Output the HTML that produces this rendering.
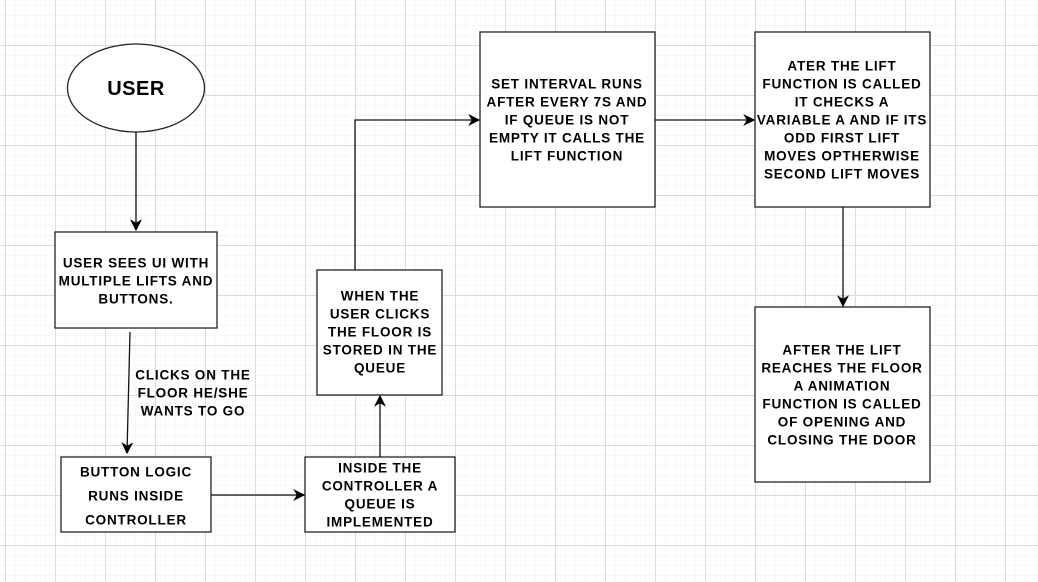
<!DOCTYPE html>
<html><head><meta charset="utf-8"><style>
html,body{margin:0;padding:0;background:#fff;}
svg{display:block;}
text{font-family:"Liberation Sans",Arial,sans-serif;font-weight:bold;font-size:13.5px;letter-spacing:0.8px;fill:#000;text-anchor:middle;dominant-baseline:central;}
</style></head><body>
<svg width="1038" height="582" viewBox="0 0 1038 582" xmlns="http://www.w3.org/2000/svg">
<defs>
<pattern id="minor" x="5" y="5" width="10" height="10" patternUnits="userSpaceOnUse">
<path d="M0 0H10M0 0V10" stroke="#f0f0f0" stroke-width="1" fill="none"/>
</pattern>
<pattern id="major" x="5" y="45" width="50" height="50" patternUnits="userSpaceOnUse">
<path d="M0 0.5H50M0.5 0V50" stroke="#dcdcdc" stroke-width="1" fill="none"/>
</pattern>
<marker id="ar" viewBox="0 0 10 10" refX="9" refY="5" markerWidth="12" markerHeight="12" markerUnits="userSpaceOnUse" orient="auto">
<path d="M0 0L10 5L0 10L3 5Z" fill="#000"/>
</marker>
</defs>
<rect width="1038" height="582" fill="url(#minor)"/>
<rect width="1038" height="582" fill="url(#major)"/>
<g stroke="#222" stroke-width="1.3" fill="#fff">
<ellipse cx="136" cy="88" rx="68.5" ry="44"/>
<rect x="55" y="232" width="162" height="96"/>
<rect x="61" y="457" width="150" height="75"/>
<rect x="305" y="457" width="150" height="75"/>
<rect x="317" y="270" width="125" height="125"/>
<rect x="480" y="32" width="175" height="175"/>
<rect x="755" y="32" width="175" height="175"/>
<rect x="755" y="307" width="175" height="175"/>
</g>
<g stroke="#111" stroke-width="1.3" fill="none">
<path d="M136 132V230" marker-end="url(#ar)"/>
<path d="M130 332L127 453" marker-end="url(#ar)"/>
<path d="M211 495H304" marker-end="url(#ar)"/>
<path d="M380 457V396" marker-end="url(#ar)"/>
<path d="M355 270V120H479" marker-end="url(#ar)"/>
<path d="M655 120H754" marker-end="url(#ar)"/>
<path d="M843 207V306" marker-end="url(#ar)"/>
</g>
<text x="136" y="89" style="font-size:20px;letter-spacing:0.5px">USER</text>
<text x="136" y="263">USER SEES UI WITH</text>
<text x="136" y="281">MULTIPLE LIFTS AND</text>
<text x="136" y="299">BUTTONS.</text>
<text x="193" y="375">CLICKS ON THE</text>
<text x="193" y="393">FLOOR HE/SHE</text>
<text x="193" y="411">WANTS TO GO</text>
<text x="136" y="472">BUTTON LOGIC</text>
<text x="136" y="496">RUNS INSIDE</text>
<text x="136" y="520">CONTROLLER</text>
<text x="380" y="468">INSIDE THE</text>
<text x="380" y="486">CONTROLLER A</text>
<text x="380" y="504">QUEUE IS</text>
<text x="380" y="522">IMPLEMENTED</text>
<text x="380" y="296">WHEN THE</text>
<text x="380" y="314">USER CLICKS</text>
<text x="380" y="332">THE FLOOR IS</text>
<text x="380" y="350">STORED IN THE</text>
<text x="380" y="368">QUEUE</text>
<text x="567" y="84">SET INTERVAL RUNS</text>
<text x="567" y="102">AFTER EVERY 7S AND</text>
<text x="567" y="120">IF QUEUE IS NOT</text>
<text x="567" y="138">EMPTY IT CALLS THE</text>
<text x="567" y="156">LIFT FUNCTION</text>
<text x="842" y="66">ATER THE LIFT</text>
<text x="842" y="84">FUNCTION IS CALLED</text>
<text x="842" y="102">IT CHECKS A</text>
<text x="842" y="120">VARIABLE A AND IF ITS</text>
<text x="842" y="138">ODD FIRST LIFT</text>
<text x="842" y="156">MOVES OPTHERWISE</text>
<text x="842" y="174">SECOND LIFT MOVES</text>
<text x="842" y="350">AFTER THE LIFT</text>
<text x="842" y="368">REACHES THE FLOOR</text>
<text x="842" y="386">A ANIMATION</text>
<text x="842" y="404">FUNCTION IS CALLED</text>
<text x="842" y="422">OF OPENING AND</text>
<text x="842" y="440">CLOSING THE DOOR</text>
</svg>
</body></html>
